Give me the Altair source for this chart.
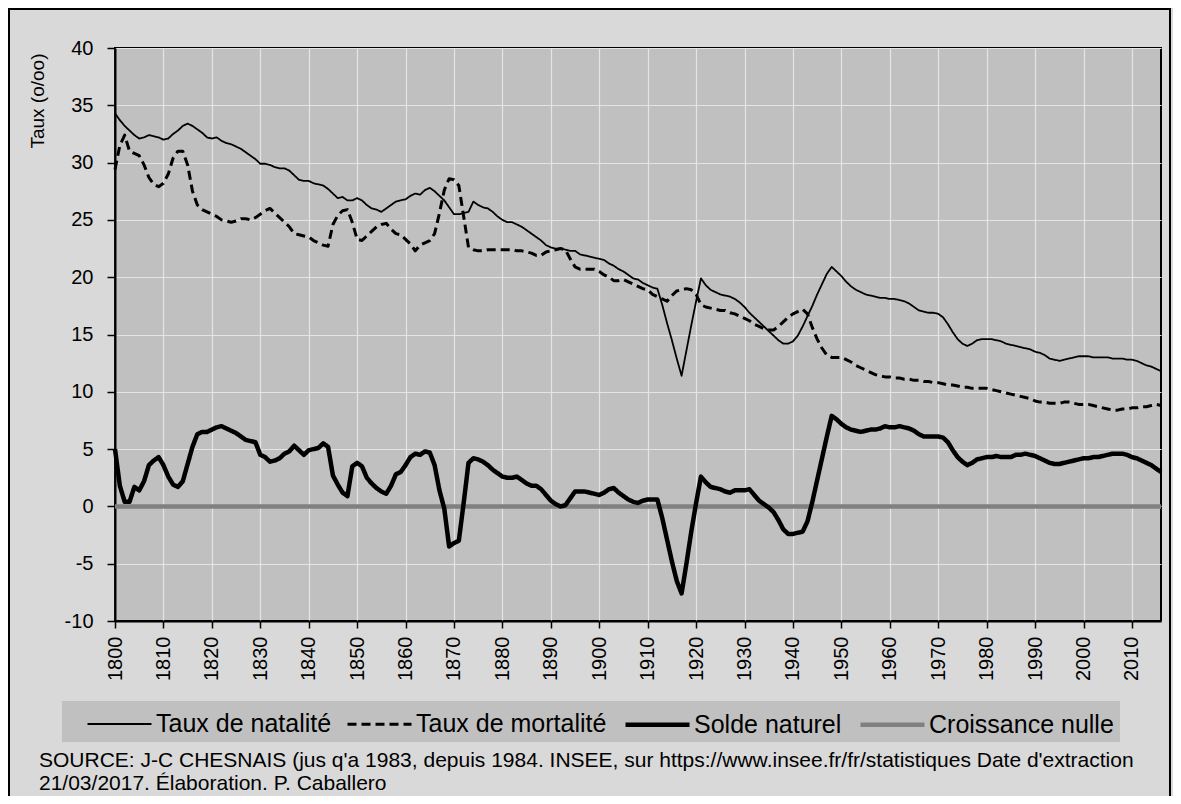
import altair as alt
import pandas as pd

years = list(range(1800, 2017))

natalite = [
    34.3, 33.7, 33.2, 32.8, 32.4, 32.1, 32.2, 32.4, 32.3, 32.2,
    32.0, 32.1, 32.5, 32.8, 33.2, 33.4, 33.2, 32.9, 32.6, 32.2,
    32.1, 32.2, 31.9, 31.7, 31.6, 31.4, 31.2, 30.9, 30.6, 30.3,
    29.9, 29.9, 29.8, 29.6, 29.5, 29.5, 29.3, 28.9, 28.5, 28.4,
    28.4, 28.2, 28.1, 28.0, 27.7, 27.3, 26.9, 27.0, 26.7, 26.7,
    26.9, 26.7, 26.3, 26.0, 25.9, 25.7, 26.0, 26.3, 26.6, 26.7,
    26.8, 27.1, 27.3, 27.2, 27.6, 27.8, 27.5, 27.1, 26.7, 26.1,
    25.5, 25.5, 25.6, 25.7, 26.6, 26.3, 26.1, 26.0, 25.7, 25.3,
    25.0, 24.8, 24.8, 24.6, 24.4, 24.1, 23.8, 23.5, 23.2, 22.8,
    22.6, 22.5, 22.5, 22.4, 22.3, 22.3, 22.0, 21.9, 21.8, 21.7,
    21.6, 21.5, 21.2, 21.0, 20.7, 20.5, 20.2, 19.9, 19.8, 19.5,
    19.3, 19.1, 19.0, 17.6, 16.0, 14.5, 12.9, 11.4, 13.6, 15.8,
    17.9, 19.9, 19.3, 18.9, 18.7, 18.5, 18.4, 18.3, 18.1, 17.8,
    17.4, 16.9, 16.5, 16.1, 15.7, 15.3, 14.9, 14.5, 14.2, 14.2,
    14.4, 14.9, 15.7, 16.6, 17.5, 18.5, 19.4, 20.3, 20.9, 20.5,
    20.1, 19.6, 19.2, 18.9, 18.7, 18.5, 18.4, 18.3, 18.2, 18.2,
    18.1, 18.1, 18.0, 17.9, 17.7, 17.4, 17.1, 17.0, 16.9, 16.9,
    16.8, 16.5, 15.9, 15.2, 14.6, 14.2, 14.0, 14.2, 14.5, 14.6,
    14.6, 14.6, 14.5, 14.4, 14.2, 14.1, 14.0, 13.9, 13.8, 13.7,
    13.5, 13.4, 13.2, 12.9, 12.8, 12.7, 12.8, 12.9, 13.0, 13.1,
    13.1, 13.1, 13.0, 13.0, 13.0, 13.0, 12.9, 12.9, 12.9, 12.8,
    12.8, 12.7, 12.5, 12.3, 12.2, 12.0, 11.8,
]

mortalite = [
    29.4, 31.5, 32.4, 31.0, 30.8, 30.6, 29.8, 28.7, 28.1, 27.9,
    28.2, 29.0, 30.4, 31.0, 31.0, 29.8, 27.5, 26.3, 25.9, 25.7,
    25.5, 25.3, 25.0, 24.9, 24.8, 24.9, 25.1, 25.1, 25.0, 25.2,
    25.5, 25.8, 26.0, 25.6, 25.2, 24.8, 24.4, 23.8, 23.7, 23.6,
    23.5, 23.2, 23.0, 22.8, 22.7, 24.6, 25.4, 25.8, 25.9, 24.8,
    23.3, 23.2, 23.6, 24.0, 24.4, 24.6, 24.7, 24.2, 23.8, 23.7,
    23.3, 22.9, 22.3, 22.8, 23.0, 23.2, 23.8, 25.6, 27.6, 28.6,
    28.5, 28.0, 25.3, 22.6, 22.4, 22.3, 22.3, 22.4, 22.4, 22.4,
    22.4, 22.4, 22.4, 22.3, 22.3, 22.2, 22.1, 21.9, 21.9, 22.2,
    22.3, 22.4, 22.5, 22.4, 21.6, 20.9, 20.7, 20.7, 20.7, 20.7,
    20.5, 20.2, 20.0, 19.7, 19.7, 19.8, 19.6, 19.4, 19.2, 19.0,
    18.9, 18.5, 18.3, 18.1, 17.9, 18.4, 18.8, 18.9, 19.0, 18.9,
    18.5, 17.6, 17.4, 17.3, 17.2, 17.1, 17.1, 16.9, 16.8, 16.6,
    16.4, 16.2, 15.9, 15.7, 15.5, 15.4, 15.4, 15.7, 16.1, 16.5,
    16.8, 17.0, 17.2, 16.8, 15.6, 14.6, 13.8, 13.2, 13.0, 13.0,
    13.0, 12.8, 12.6, 12.3, 12.1, 11.9, 11.7, 11.5, 11.4, 11.3,
    11.3, 11.2, 11.2, 11.1, 11.1, 11.0, 11.0, 10.9, 10.9, 10.8,
    10.8, 10.7, 10.6, 10.6, 10.5, 10.4, 10.4, 10.3, 10.3, 10.3,
    10.3, 10.2, 10.1, 10.0, 9.9, 9.8, 9.7, 9.6, 9.5, 9.4,
    9.2, 9.1, 9.1, 9.0, 9.0, 9.0, 9.1, 9.1, 9.0, 8.9,
    8.9, 8.9, 8.8, 8.7, 8.6, 8.5, 8.4, 8.4, 8.5, 8.5,
    8.6, 8.6, 8.7, 8.7, 8.8, 8.9, 8.8,
]

solde = [
    5.0, 1.8, 0.4, 0.4, 1.7, 1.4, 2.2, 3.6, 4.0, 4.3,
    3.6, 2.6, 1.9, 1.7, 2.2, 3.7, 5.2, 6.3, 6.5, 6.5,
    6.7, 6.9, 7.0, 6.8, 6.6, 6.4, 6.1, 5.8, 5.7, 5.6,
    4.5, 4.3, 3.9, 4.0, 4.2, 4.6, 4.8, 5.3, 4.9, 4.5,
    4.9, 5.0, 5.1, 5.5, 5.2, 2.7, 1.9, 1.2, 0.9, 3.5,
    3.8, 3.5, 2.5, 2.0, 1.6, 1.3, 1.1, 1.8, 2.8, 3.0,
    3.6, 4.3, 4.6, 4.5, 4.8, 4.7, 3.6, 1.4, -0.2, -3.5,
    -3.2, -3.0, 0.3, 3.8, 4.2, 4.1, 3.9, 3.6, 3.2, 2.9,
    2.6, 2.5, 2.5, 2.6, 2.3, 2.0, 1.8, 1.8, 1.5, 1.0,
    0.5, 0.2, 0.0, 0.1, 0.7, 1.3, 1.3, 1.3, 1.2, 1.1,
    1.0, 1.2, 1.5, 1.6, 1.2, 0.9, 0.6, 0.4, 0.3, 0.5,
    0.6, 0.6, 0.6, -1.0, -2.9, -4.8, -6.5, -7.6, -5.0, -2.2,
    0.3, 2.6, 2.1, 1.7, 1.6, 1.5, 1.3, 1.2, 1.4, 1.4,
    1.4, 1.5, 1.0, 0.5, 0.2, -0.1, -0.5, -1.2, -2.0, -2.4,
    -2.4, -2.3, -2.2, -1.3, 0.4, 2.3, 4.2, 6.1, 7.9, 7.6,
    7.2, 6.9, 6.7, 6.6, 6.5, 6.6, 6.7, 6.7, 6.8, 7.0,
    6.9, 6.9, 7.0, 6.9, 6.8, 6.6, 6.3, 6.1, 6.1, 6.1,
    6.1, 6.0, 5.6, 4.9, 4.3, 3.9, 3.6, 3.8, 4.1, 4.2,
    4.3, 4.3, 4.4, 4.3, 4.3, 4.3, 4.5, 4.5, 4.6, 4.5,
    4.4, 4.2, 4.0, 3.8, 3.7, 3.7, 3.8, 3.9, 4.0, 4.1,
    4.2, 4.2, 4.3, 4.3, 4.4, 4.5, 4.6, 4.6, 4.6, 4.5,
    4.3, 4.2, 4.0, 3.8, 3.6, 3.3, 3.0,
]

zero_years = [1800, 2016]
zero_values = [0, 0]

series_names = ["Taux de natalité", "Taux de mortalité", "Solde naturel", "Croissance nulle"]
series_colors = ["#000000", "#000000", "#000000", "#808080"]
series_dashes = [[1, 0], [9, 5], [1, 0], [1, 0]]
series_widths = [1.8, 3.0, 4.5, 4.5]

x_ticks = list(range(1800, 2011, 10))
y_ticks = list(range(-10, 41, 5))
y_title = "Taux (o/oo)"
source_line1 = "SOURCE: J-C CHESNAIS (jus q'a 1983, depuis 1984. INSEE, sur https://www.insee.fr/fr/statistiques Date d'extraction"
source_line2 = "21/03/2017. Élaboration. P. Caballero"

assert len(natalite) == len(years) == len(mortalite) == len(solde)

FONT = "Liberation Sans"
W, H = 1046, 573

df = pd.concat([
    pd.DataFrame({"year": years, "value": natalite, "serie": series_names[0]}),
    pd.DataFrame({"year": years, "value": mortalite, "serie": series_names[1]}),
    pd.DataFrame({"year": years, "value": solde, "serie": series_names[2]}),
], ignore_index=True)
df_zero = pd.DataFrame({"year": zero_years, "value": zero_values, "serie": series_names[3]})

x_enc = alt.X("year:Q",
              scale=alt.Scale(domain=[1800, 2016], nice=False, zero=False),
              axis=alt.Axis(values=x_ticks, format="d", labelAngle=270, labelFontSize=20,
                            labelPadding=8, tickSize=7, tickColor="#000", tickWidth=1.5,
                            domainColor="#000", domainWidth=2, labelColor="#000",
                            gridColor="#e4e4e4", gridWidth=1.2, title=None, labelFont=FONT))
y_enc = alt.Y("value:Q",
              scale=alt.Scale(domain=[-10, 40], nice=False, zero=False),
              axis=alt.Axis(values=y_ticks, labelFontSize=20, labelPadding=14, tickSize=8,
                            labelExpr="'' + datum.value",
                            tickColor="#000", tickWidth=1.5, domainColor="#000", domainWidth=2,
                            labelColor="#000", gridColor="#e4e4e4", gridWidth=1.2,
                            labelFont=FONT, title=y_title, titleFontSize=19,
                            titleFontWeight="normal", titleFont=FONT, titleAngle=270,
                            titleAlign="right", titleBaseline="middle", titleX=-78, titleY=5,
                            titleColor="#000"))
color_enc = alt.Color("serie:N", scale=alt.Scale(type="ordinal", domain=series_names, range=series_colors), title=None)
dash_enc = alt.StrokeDash("serie:N", scale=alt.Scale(type="ordinal", domain=series_names, range=series_dashes), title=None)
width_enc = alt.StrokeWidth("serie:N", scale=alt.Scale(type="ordinal", domain=series_names, range=series_widths), title=None)

zero_layer = alt.Chart(df_zero).mark_line(strokeCap="butt").encode(
    x=x_enc, y=y_enc, color=color_enc, strokeDash=dash_enc, strokeWidth=width_enc)

lines_layer = alt.Chart(df).mark_line(strokeJoin="round").encode(
    x=x_enc, y=y_enc, color=color_enc, strokeDash=dash_enc, strokeWidth=width_enc,
    detail="serie:N")

one = pd.DataFrame({"k": [0]})
frame = alt.Chart(one).mark_rect(filled=False, stroke="#000", strokeWidth=2).encode(
    x=alt.value(-106), x2=alt.value(W + 9), y=alt.value(-39), y2=alt.value(H + 300))
legend_box = alt.Chart(one).mark_rect(fill="#c0c0c0").encode(
    x=alt.value(-53), x2=alt.value(1005), y=alt.value(653), y2=alt.value(694))
src1 = alt.Chart(one).mark_text(align="left", baseline="middle", fontSize=21, font=FONT,
                                color="#000").encode(
    x=alt.value(-76), y=alt.value(713), text=alt.value(source_line1))
src2 = alt.Chart(one).mark_text(align="left", baseline="middle", fontSize=21, font=FONT,
                                color="#000").encode(
    x=alt.value(-76), y=alt.value(736), text=alt.value(source_line2))

chart = alt.layer(frame, legend_box, zero_layer, lines_layer, src1, src2).properties(
    width=W, height=H,
    autosize=alt.AutoSizeParams(type="none"),
    padding={"left": 107, "top": 40, "right": 12, "bottom": 175},
    background="#d9d9d9",
).configure(font=FONT).configure_view(
    fill="#c0c0c0", stroke="#000", strokeWidth=2
).configure_legend(
    orient="none", legendX=-30, legendY=642, direction="horizontal", columns=4,
    symbolType="stroke", symbolSize=4096, labelFontSize=25, labelFont=FONT,
    labelColor="#000", labelOffset=2, columnPadding=9, padding=0, labelLimit=400
)

chart.save("out.html", embed_options={"renderer": "svg", "actions": False})
